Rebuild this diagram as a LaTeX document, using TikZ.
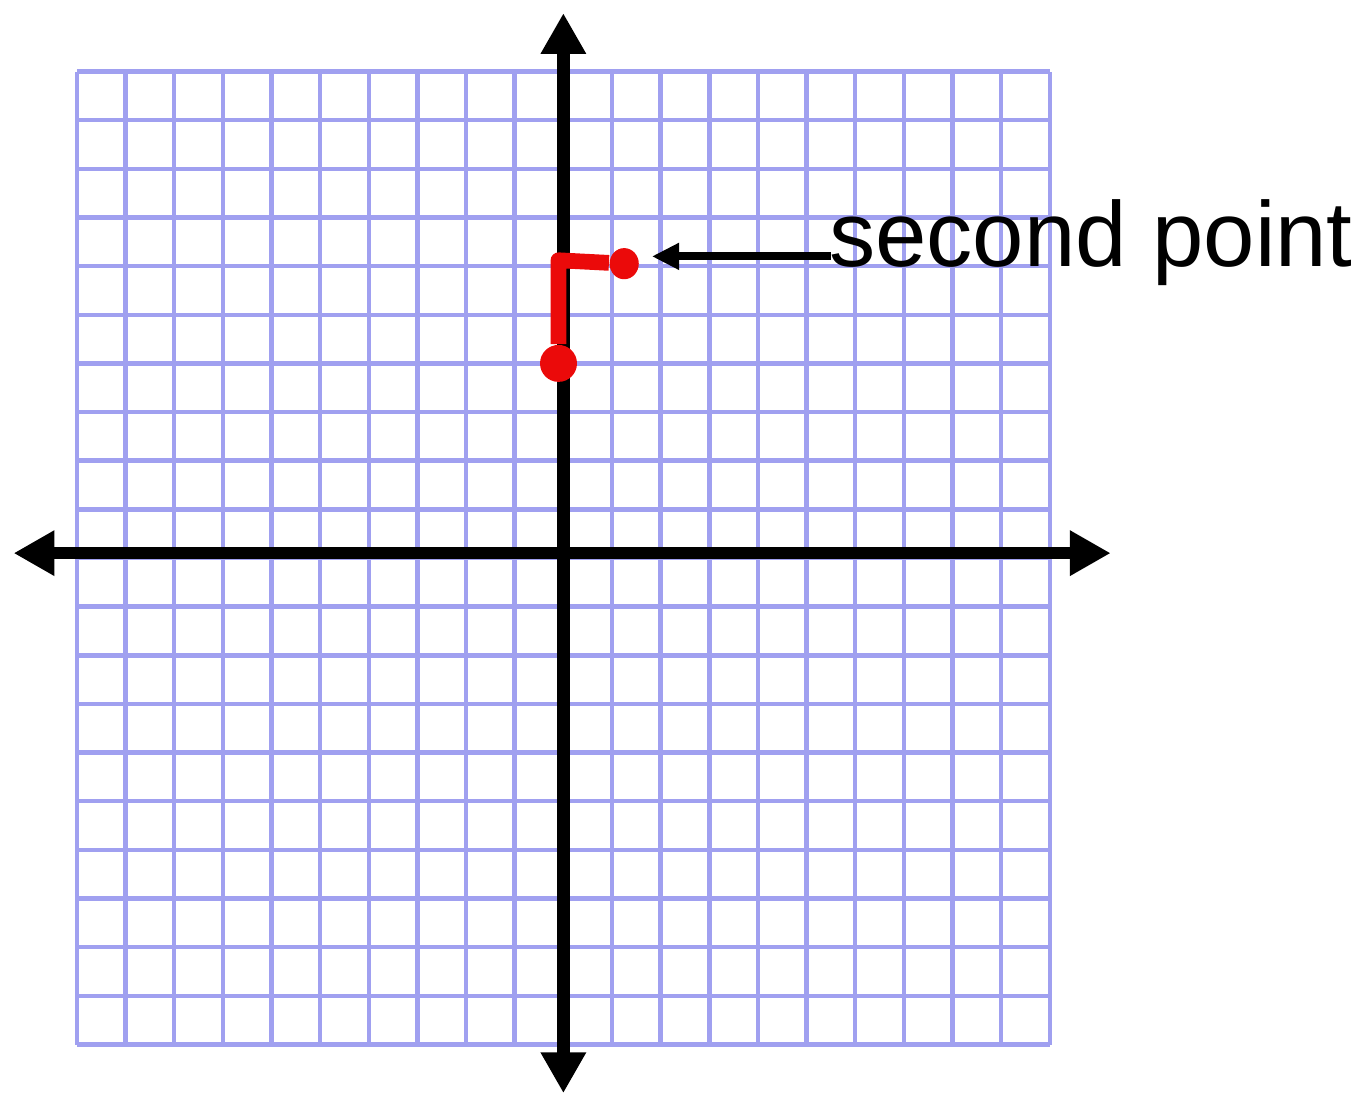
\documentclass[tikz,border=0pt]{standalone}
\usepackage{fontspec}
\setmainfont{Liberation Sans}
\usetikzlibrary{arrows.meta,positioning,calc,shapes.geometric}
\definecolor{gridblue}{RGB}{160,160,240}
\definecolor{penred}{RGB}{235,10,10}

\begin{document}
\begin{tikzpicture}[x=0.5cm, y=0.5cm,
    gridline/.style={draw=gridblue, line width=1.3pt},
    axis/.style={line width=3.6pt, -{Triangle[length=0.42cm, width=0.44cm]}},
    dot/.style={circle, fill=penred, inner sep=0pt, minimum size=0.38cm},
    label/.style={font=\fontsize{27}{32}\selectfont, inner sep=0pt, anchor=base west}
]
\useasboundingbox (-11.58,-11.06) rectangle (16.58,11.47);

% graph paper
\foreach \i in {-10,...,10} {
    \draw[gridline] (\i,-10) -- (\i,10);
    \draw[gridline] (-10,\i) -- (10,\i);
}

% axes
\coordinate (xl) at (-11.3,0.1);
\coordinate (xr) at (11.25,0.1);
\coordinate (yt) at (0,11.2);
\coordinate (yb) at (0,-11.0);
\draw[axis] (0,0.1) -- (xl);
\draw[axis] (0,0.1) -- (xr);
\draw[axis] (0,0) -- (yt);
\draw[axis] (0,0) -- (yb);

% points
\node[dot] (first) at (-0.1,4) {};
\node[dot, ellipse, minimum width=0.3cm, minimum height=0.32cm] (second) at (1.25,6.05) {};
\coordinate (corner) at (-0.1,6.12);
\draw[penred, line width=4.6pt, line join=round] (first) -- (corner) -- (second);

% label
\node[label] (secondlbl) at (5.45,6.0) {second point};
\coordinate (tail) at (5.5,6.2);
\coordinate (tip) at (1.82,6.2);
\draw[line width=2.4pt, -{Triangle[length=0.28cm, width=0.26cm]}] (tail) -- (tip);

\end{tikzpicture}
\end{document}
